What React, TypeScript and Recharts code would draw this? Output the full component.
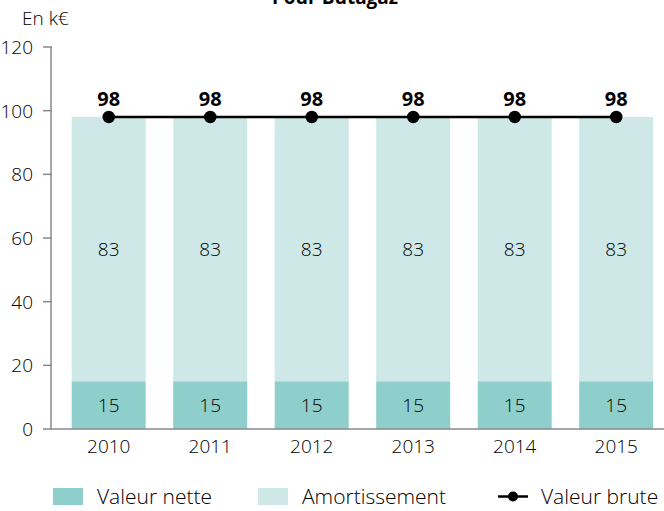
import { ComposedChart, Bar, Line, XAxis, YAxis, LabelList } from "recharts";

const years = ["2010", "2011", "2012", "2013", "2014", "2015"];
const valeurNette = [15, 15, 15, 15, 15, 15];
const amortissement = [83, 83, 83, 83, 83, 83];
const valeurBrute = [98, 98, 98, 98, 98, 98];
const yTicks = [0, 20, 40, 60, 80, 100, 120];

const data = years.map((y, i) => ({
  year: y,
  nette: valeurNette[i],
  amort: amortissement[i],
  brute: valeurBrute[i],
}));

const FONT = "'Open Sans', Lato, sans-serif";
const TEXT = "#000";
const AXIS = "#8a8a8a";

const YTick = (props: any) => {
  const { x, y, payload } = props;
  return (
    <g>
      <line x1={x} x2={x + 9} y1={y} y2={y} stroke={AXIS} strokeWidth={1.5} />
      <text x={x - 10} y={y} dy={7} textAnchor="end" fontSize={19} fontWeight={300} fill={TEXT} fontFamily={FONT}>
        {payload.value}
      </text>
    </g>
  );
};

export default function App() {
  return (
    <div style={{ position: "absolute", left: 0, top: 0, width: 664, height: 511, overflow: "hidden", fontFamily: FONT, fontWeight: 300 }}>
      <div style={{ position: "absolute", left: 0, width: 670, top: -16, textAlign: "center", fontSize: 19, fontWeight: 700, color: TEXT }}>
        Pour Butagaz
      </div>
      <div style={{ position: "absolute", left: 22, top: 5, fontSize: 19, color: TEXT }}>En k€</div>
      <ComposedChart
        width={667}
        height={511}
        data={data}
        margin={{ top: 47, right: 0, bottom: 52, left: 0 }}
        barCategoryGap="13.5%"
      >
        <XAxis
          dataKey="year"
          height={30}
          padding={{ left: 7, right: 0 }}
          tickLine={false}
          axisLine={{ stroke: AXIS, strokeWidth: 1.5 }}
          tick={{ fontSize: 19, fontWeight: 300, fill: TEXT, fontFamily: FONT }}
          tickMargin={5}
        />
        <YAxis
          width={51}
          domain={[0, 120]}
          ticks={yTicks}
          tickLine={false}
          axisLine={{ stroke: AXIS, strokeWidth: 1.5 }}
          tick={<YTick />}
          interval={0}
        />
        <Bar dataKey="nette" stackId="a" fill="#8ecfcb" isAnimationActive={false}>
          <LabelList dataKey="nette" position="center" fontSize={19} fontWeight={300} fill={TEXT} fontFamily={FONT} />
        </Bar>
        <Bar dataKey="amort" stackId="a" fill="#cde8e7" isAnimationActive={false}>
          <LabelList dataKey="amort" position="center" fontSize={19} fontWeight={300} fill={TEXT} fontFamily={FONT} />
        </Bar>
        <Line
          dataKey="brute"
          stroke="#000"
          strokeWidth={2.5}
          dot={{ r: 5, fill: "#000", stroke: "#000" }}
          isAnimationActive={false}
        >
          <LabelList dataKey="brute" position="top" offset={11} fontSize={20} fontWeight={700} fill="#000" fontFamily={FONT} />
        </Line>
      </ComposedChart>
      <div style={{ position: "absolute", top: 482, left: 0, width: 664, height: 28, fontSize: 21, color: TEXT }}>
        <div style={{ position: "absolute", left: 53, top: 6, width: 30, height: 17, background: "#8ecfcb" }} />
        <div style={{ position: "absolute", left: 97, top: 0 }}>Valeur nette</div>
        <div style={{ position: "absolute", left: 258, top: 6, width: 30, height: 17, background: "#cde8e7" }} />
        <div style={{ position: "absolute", left: 302, top: 0 }}>Amortissement</div>
        <svg style={{ position: "absolute", left: 496, top: 0 }} width={34} height={28}>
          <line x1={2} x2={32} y1={14.5} y2={14.5} stroke="#000" strokeWidth={2.5} />
          <circle cx={17} cy={14.5} r={5} fill="#000" />
        </svg>
        <div style={{ position: "absolute", left: 541, top: 0 }}>Valeur brute</div>
      </div>
    </div>
  );
}
